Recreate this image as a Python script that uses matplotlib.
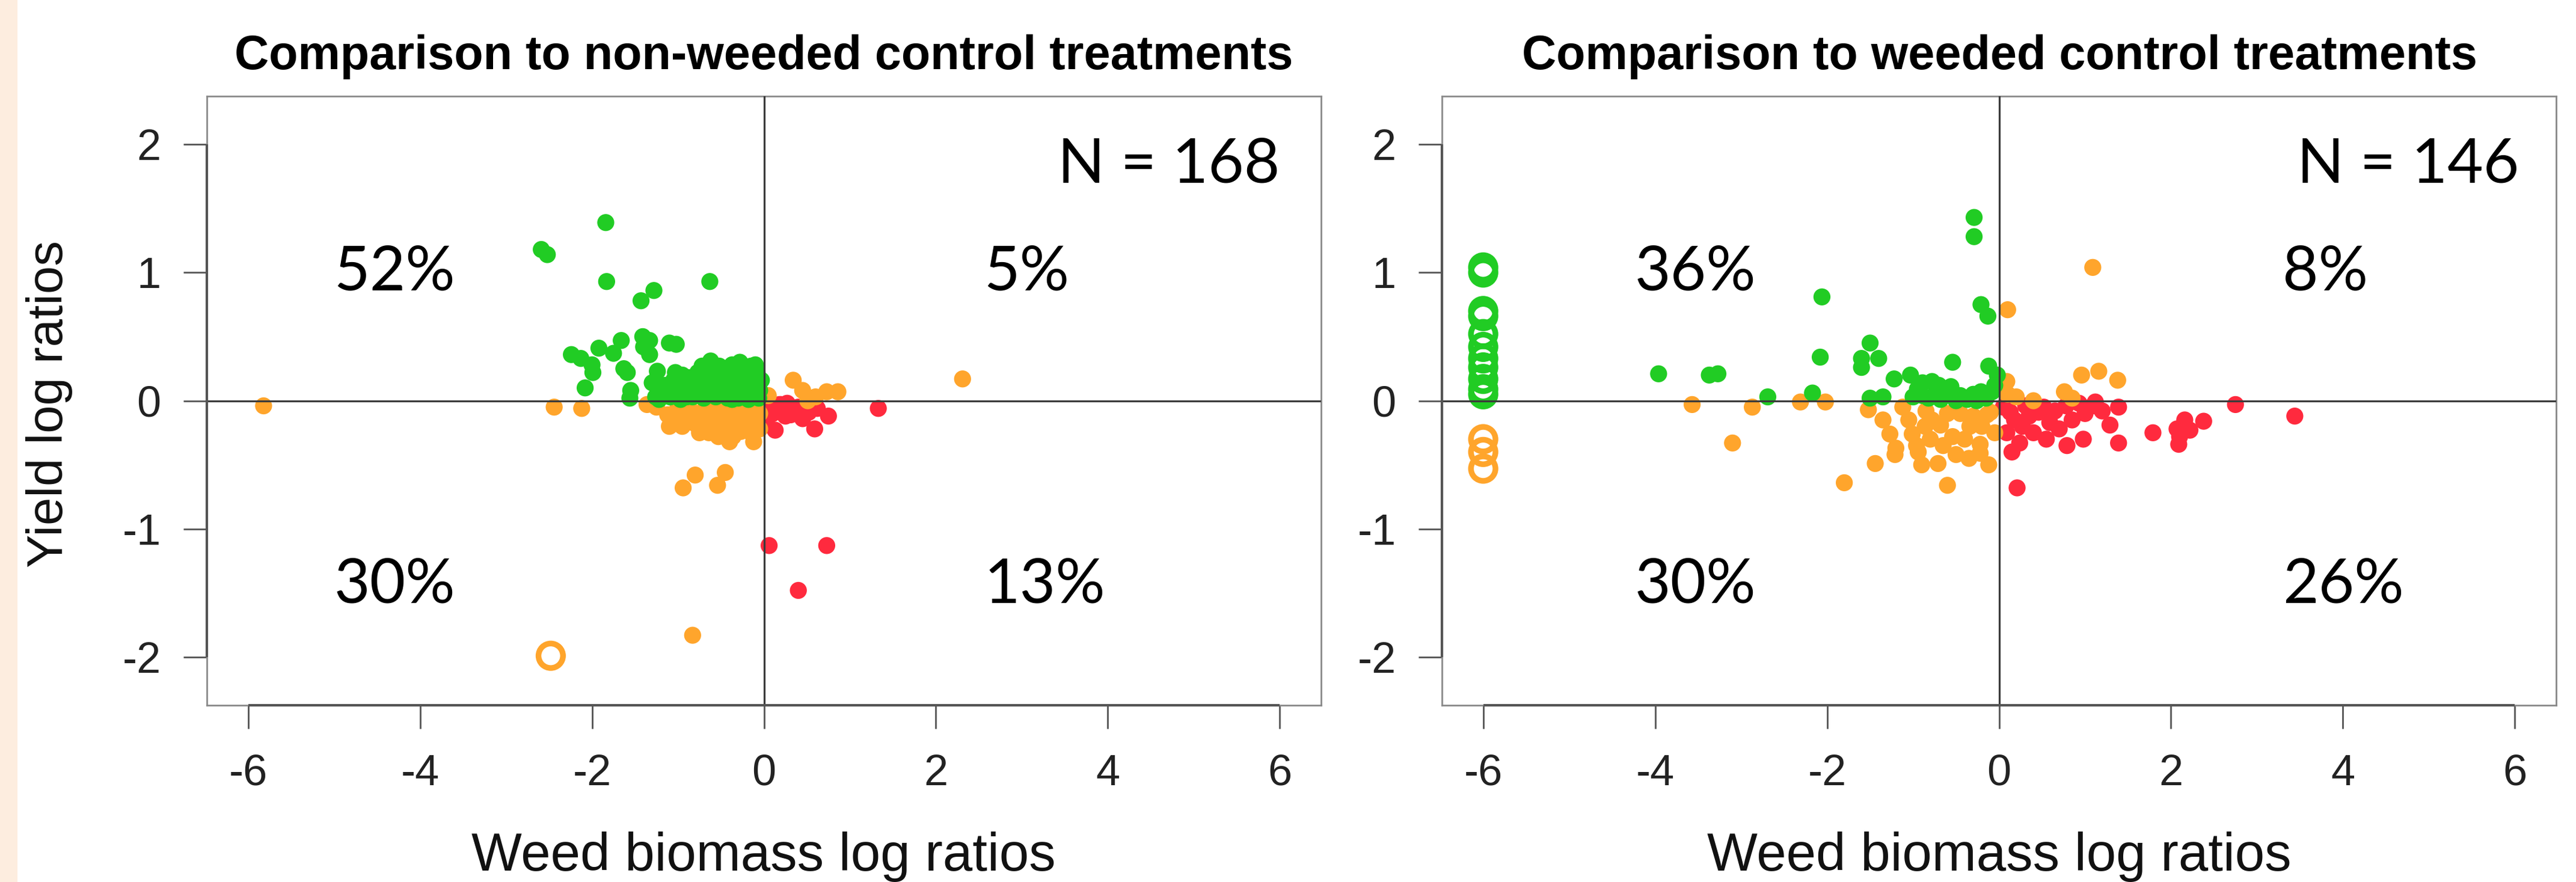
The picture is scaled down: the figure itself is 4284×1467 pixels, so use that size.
import matplotlib
matplotlib.use("Agg")
import matplotlib.pyplot as plt
from matplotlib.patches import Rectangle

# ---------------- data ----------------
titles = ["Comparison to non-weeded control treatments",
          "Comparison to weeded control treatments"]
x_label = "Weed biomass log ratios"
y_label = "Yield log ratios"
x_ticks = [-6, -4, -2, 0, 2, 4, 6]
y_ticks = [-2, -1, 0, 1, 2]
n_labels = ["N = 168", "N = 146"]
pct_left = ["52%", "5%", "30%", "13%"]     # UL, UR, LL, LR
pct_right = ["36%", "8%", "30%", "26%"]

# ----- left panel (non-weeded control) -----
L_green_x = [-1.84, -2.59, -2.52, -1.83, -1.28, -1.43, -0.63,
             -2.24, -2.13, -1.92, -1.75, -1.66, -1.41, -1.33, -1.40, -1.33, -1.10, -1.02,
             -2.00, -1.99, -2.08, -1.63, -1.59, -1.55, -1.56, -1.24, -1.03, -1.22, -1.22,
             -1.01, -0.97, -0.83, -0.77, -0.62, -0.60, -0.56, -0.37, -0.37, -0.37, -0.15,
             -0.14, -0.12, -0.47, -0.26, -0.26, -0.47, -0.69, -0.85, -0.90, -1.09, -1.26,
             -0.05, -0.08,
             -1.15, -1.05, -0.95, -0.92, -0.80, -0.75, -0.70, -0.65, -0.58, -0.52, -0.50,
             -0.44, -0.42, -0.40, -0.33, -0.30, -0.28, -0.22, -0.20, -0.19, -0.10, -0.06,
             -0.03, -0.18, -0.55, -0.65, -0.88, -1.17, -1.30, -0.30, -0.10, -0.72]
L_green_y = [1.39, 1.18, 1.14, 0.93, 0.86, 0.78, 0.93,
             0.36, 0.33, 0.41, 0.37, 0.47, 0.50, 0.47, 0.42, 0.36, 0.45, 0.44,
             0.28, 0.22, 0.10, 0.25, 0.22, 0.08, 0.02, 0.23, 0.22, 0.09, 0.01,
             0.09, 0.01, 0.03, 0.22, 0.31, 0.19, 0.03, 0.28, 0.15, 0.01, 0.27,
             0.15, 0.04, 0.22, 0.22, 0.10, 0.10, 0.10, 0.14, 0.03, 0.03, 0.03,
             0.08, 0.22,
             0.12, 0.16, 0.20, 0.10, 0.08, 0.15, 0.02, 0.24, 0.12, 0.27, 0.05,
             0.16, 0.02, 0.24, 0.08, 0.18, 0.30, 0.05, 0.14, 0.24, 0.12, 0.02,
             0.16, 0.01, 0.20, 0.06, 0.18, 0.05, 0.14, 0.02, 0.28, 0.27]
L_orange_x = [-5.82, -2.44, -2.12, -1.36, -1.12, -1.10, -0.90, -0.72, -0.61, -0.64,
              -0.53, -0.37, -0.31, -0.15, -0.15, -0.47, -0.26, -0.08, -0.80, -0.94,
              -0.45, -0.54, -0.83, -0.54, -0.36,
              -1.25, -1.00, -0.95, -0.85, -0.80, -0.68, -0.58, -0.45, -0.42, -0.35,
              -0.22, -0.20, -0.10, -0.05, -0.05, -0.62, -0.75, -0.27, -0.12, -1.00,
              -0.50, -0.88, -0.18, -0.40,
              0.05, 0.34, 0.45, 0.51, 0.73, 0.86, 2.31, 0.60]
L_orange_y = [-0.04, -0.05, -0.06, -0.03, -0.11, -0.20, -0.12, -0.12, -0.19, -0.25,
              -0.28, -0.28, -0.19, -0.25, -0.12, -0.08, -0.06, -0.05, -0.58, -0.68,
              -0.56, -0.66, -1.83, -0.27, -0.28,
              -0.05, -0.05, -0.20, -0.08, -0.18, -0.05, -0.10, -0.18, -0.03, -0.12,
              -0.02, -0.18, -0.15, -0.10, -0.22, -0.03, -0.25, -0.24, -0.32, -0.14,
              -0.20, -0.02, -0.08, -0.32,
              0.04, 0.16, 0.08, 0.00, 0.07, 0.07, 0.17, 0.03]
L_red_x = [0.06, 0.20, 0.33, 0.31, 0.52, 0.55, 0.75, 0.59, 0.13, 1.33, 0.06, 0.73,
           0.40, 0.18, 0.33, 0.10, 0.25, 0.40, 0.45, 0.03, 0.62, 0.27]
L_red_y = [-0.06, -0.03, -0.06, -0.11, -0.09, -0.03, -0.12, -0.22, -0.23, -0.06, -1.13,
           -1.13, -1.48, -0.03, -0.08, -0.10, -0.12, -0.05, -0.14, -0.15, -0.06, -0.02]
L_open_orange_x = [-2.48]
L_open_orange_y = [-1.99]

# ----- right panel (weeded control) -----
R_green_x = [-2.06, -2.08, -3.96, -3.37, -3.27, -2.69, -2.17, -0.29, -0.29, -0.21,
             -0.13, -1.50, -1.60, -1.40, -1.60, -1.22, -1.03, -0.54, -0.12, -0.02,
             -1.50, -1.35, -0.89, -0.78, -0.89, -0.56, -0.68, -0.37, -0.21, -0.08,
             -0.26, -0.73, -0.45,
             -0.95, -0.82, -0.60, -0.50, -0.30, -0.15, -0.05, -1.00, -0.70]
R_green_y = [0.81, 0.34, 0.21, 0.20, 0.21, 0.03, 0.06, 1.43, 1.28, 0.75,
             0.66, 0.45, 0.33, 0.33, 0.26, 0.17, 0.20, 0.30, 0.27, 0.20,
             0.02, 0.03, 0.14, 0.15, 0.04, 0.11, 0.01, 0.01, 0.07, 0.07,
             0.00, 0.07, 0.04,
             0.09, 0.02, 0.05, 0.00, 0.05, 0.02, 0.12, 0.03, 0.12]
R_open_green_x = [-6, -6, -6, -6, -6, -6, -6, -6, -6, -6, -6]
R_open_green_y = [1.04, 1.00, 0.70, 0.66, 0.52, 0.42, 0.33, 0.26, 0.17, 0.09, 0.05]
R_orange_x = [-3.57, -2.87, -3.10, -2.31, -2.02, -1.52, -1.12, -0.85, -1.27, -1.01,
              -0.86, -0.68, -0.54, -0.34, -0.14, -0.22, -1.20, -0.96, -0.94, -1.21,
              -1.44, -1.80, -0.71, -0.60, -0.22, -0.78, -0.10,
              -0.45, -0.30, -0.60, -0.40, -0.80, -0.50, -1.05, -0.20, -0.05, -0.65,
              -1.35, -0.35, -0.90, -0.12,
              0.10, 1.09, 0.09, 0.10, 0.40, 0.76, 0.96, 1.16, 1.38, 0.05, 0.20, 0.85]
R_orange_y = [-0.03, -0.05, -0.33, -0.01, -0.01, -0.07, -0.05, -0.08, -0.26, -0.26,
              -0.20, -0.19, -0.28, -0.20, -0.11, -0.34, -0.37, -0.35, -0.40, -0.42,
              -0.49, -0.64, -0.49, -0.66, -0.41, -0.15, -0.09,
              -0.10, -0.12, -0.10, -0.30, -0.30, -0.42, -0.15, -0.20, -0.25, -0.35,
              -0.15, -0.45, -0.50, -0.50,
              0.71, 1.04, 0.15, 0.05, 0.00, 0.07, 0.20, 0.23, 0.16, 0.10, 0.03, 0.02]
R_open_orange_x = [-6, -6, -6]
R_open_orange_y = [-0.30, -0.40, -0.53]
R_red_x = [0.21, 0.09, 0.24, 0.27, 0.13, 0.31, 0.46, 0.59, 0.78, 0.93, 1.09, 1.12,
           0.79, 0.98, 1.29, 1.39, 1.39, 1.79, 2.07, 2.16, 2.22, 2.09, 2.38, 2.75,
           3.44, 2.10,
           0.05, 0.18, 0.35, 0.40, 0.52, 0.65, 0.70, 1.00, 1.20, 0.55, 0.85, 0.15]
R_red_y = [-0.68, -0.25, -0.33, -0.20, -0.09, -0.04, -0.09, -0.17, -0.04, -0.02, -0.04,
           -0.01, -0.35, -0.30, -0.19, -0.05, -0.33, -0.25, -0.22, -0.15, -0.23, -0.34,
           -0.16, -0.03, -0.12, -0.28,
           -0.05, -0.15, -0.12, -0.25, -0.05, -0.08, -0.22, -0.10, -0.08, -0.30, -0.15,
           -0.40]

# ---------------- style ----------------
GREEN = "#21CC24"
ORANGE = "#FFA52C"
RED = "#FF2A3E"
W, H = 4284, 1467
DPI = 100
ARIAL = ["Liberation Sans", "DejaVu Sans"]
CALI = ["Lato", "DejaVu Sans"]

fig = plt.figure(figsize=(W / DPI, H / DPI), dpi=DPI)
fig.patches.append(Rectangle((0, 0), 29 / W, 1, transform=fig.transFigure,
                             facecolor="#FDEDDF", edgecolor="none", zorder=0))

XL = (-6.48, 6.48)
YL = (-2.376, 2.376)
ax_w = 1853 / W
ax_h = 1013 / H
ax_b = 1 - 1173 / H
axL = fig.add_axes([344 / W, ax_b, ax_w, ax_h])
axR = fig.add_axes([2398 / W, ax_b, ax_w, ax_h])

S_FILL = 415
S_OPEN = 860


def style(ax):
    ax.set_xlim(*XL)
    ax.set_ylim(*YL)
    ax.set_xticks(x_ticks)
    ax.set_yticks(y_ticks)
    ax.set_xticklabels([str(t) for t in x_ticks], fontfamily=ARIAL, fontsize=52, color="#222222")
    ax.set_yticklabels([str(t) for t in y_ticks], fontfamily=ARIAL, fontsize=52, color="#222222")
    ax.tick_params(axis="both", direction="out", length=28, width=2.0, color="#555555")
    ax.tick_params(axis="x", pad=30)
    ax.tick_params(axis="y", pad=27)
    for sp in ax.spines.values():
        sp.set_color("#8a8a8a")
        sp.set_linewidth(2.0)
    # R-style axis lines spanning the tick range
    ax.plot([x_ticks[0], x_ticks[-1]], [YL[0], YL[0]], color="#555555", lw=3.0,
            clip_on=False, zorder=5, solid_capstyle="butt")
    ax.plot([XL[0], XL[0]], [y_ticks[0], y_ticks[-1]], color="#555555", lw=3.0,
            clip_on=False, zorder=5, solid_capstyle="butt")
    ax.axhline(0, color="#3a3a3a", lw=2.3, zorder=4)
    ax.axvline(0, color="#3a3a3a", lw=2.3, zorder=4)


def pts(ax, gx, gy, ox, oy, rx, ry):
    ax.scatter(rx, ry, s=S_FILL, color=RED, edgecolors="none", zorder=2)
    ax.scatter(ox, oy, s=S_FILL, color=ORANGE, edgecolors="none", zorder=2)
    ax.scatter(gx, gy, s=S_FILL, color=GREEN, edgecolors="none", zorder=2)


# left panel
pts(axL, L_green_x, L_green_y, L_orange_x, L_orange_y, L_red_x, L_red_y)
axL.scatter(L_open_orange_x, L_open_orange_y, s=S_OPEN, facecolors="none",
            edgecolors=ORANGE, linewidths=6.8, zorder=3)
style(axL)

# right panel
pts(axR, R_green_x, R_green_y, R_orange_x, R_orange_y, R_red_x, R_red_y)
axR.scatter(R_open_green_x, R_open_green_y, s=S_OPEN, facecolors="none",
            edgecolors=GREEN, linewidths=6.8, zorder=3)
axR.scatter(R_open_orange_x, R_open_orange_y, s=S_OPEN, facecolors="none",
            edgecolors=ORANGE, linewidths=6.8, zorder=3)
style(axR)

# percentage labels & N
PCT_FS = 74
for ax, pct, xl, xr in [(axL, pct_left, -5.0, 2.56), (axR, pct_right, -4.24, 3.30)]:
    ax.text(xl, 1.0, pct[0], fontfamily=CALI, fontsize=PCT_FS, ha="left", va="center", zorder=6)
    ax.text(xr, 1.0, pct[1], fontfamily=CALI, fontsize=PCT_FS, ha="left", va="center", zorder=6)
    ax.text(xl, -1.44, pct[2], fontfamily=CALI, fontsize=PCT_FS, ha="left", va="center", zorder=6)
    ax.text(xr, -1.44, pct[3], fontfamily=CALI, fontsize=PCT_FS, ha="left", va="center", zorder=6)
axL.text(6.0, 1.84, n_labels[0], fontfamily=CALI, fontsize=PCT_FS, ha="right", va="center", zorder=6)
axR.text(6.05, 1.84, n_labels[1], fontfamily=CALI, fontsize=PCT_FS, ha="right", va="center", zorder=6)

# titles
fig.text(1270 / W, 1 - 115 / H, titles[0], fontfamily=ARIAL, fontweight="bold",
         fontsize=57, ha="center", va="baseline")
fig.text(3325 / W, 1 - 115 / H, titles[1], fontfamily=ARIAL, fontweight="bold",
         fontsize=57, ha="center", va="baseline")

# axis labels
fig.text(1270 / W, 1 - 1448 / H, x_label, fontfamily=ARIAL, fontsize=64,
         ha="center", va="baseline", color="#111111")
fig.text(3325 / W, 1 - 1448 / H, x_label, fontfamily=ARIAL, fontsize=64,
         ha="center", va="baseline", color="#111111")
fig.text(82 / W, 1 - 672 / H, y_label, fontfamily=ARIAL, fontsize=60,
         ha="center", va="center", rotation=90, color="#111111")

fig.savefig("out.png", dpi=DPI, facecolor="white")
